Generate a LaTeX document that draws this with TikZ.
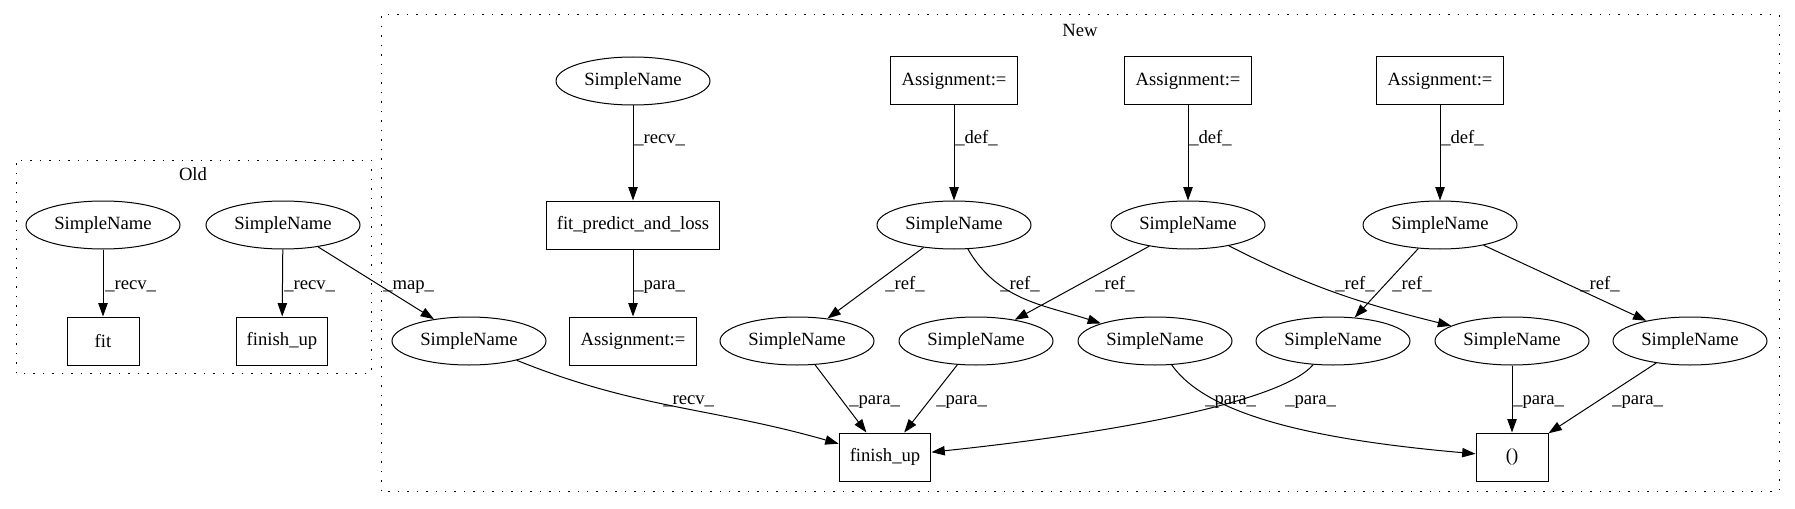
\documentclass[tikz,border=0pt]{standalone}
\usepackage{fontspec}
\setmainfont{Liberation Serif}
\usetikzlibrary{shapes.geometric,arrows.meta}
\begin{document}
\begin{tikzpicture}[x=0.75pt,y=0.75pt,
		font=\fontsize{14}{16}\selectfont,
		sn/.style={draw,ellipse,line width=0.75pt,minimum width=115.5pt,minimum height=36pt,inner sep=0pt},
		op/.style={draw,rectangle,line width=0.75pt,minimum width=54pt,minimum height=36pt,inner xsep=8pt,inner ysep=0pt},
		lbl/.style={anchor=base west,inner sep=0pt},
		arr/.style={-{Triangle[length=10pt,width=7pt]},line width=0.75pt},
		cluster/.style={line width=0.75pt,dash pattern=on 1.1pt off 6pt}]
		\useasboundingbox (0,0) rectangle (1795,508);
		\draw[cluster] (16,135) rectangle (371,348);
		\draw[cluster] (381,17) rectangle (1779,493);
		\node (oldlbl) at (193,334) {Old};
		\node (newlbl) at (1080,478) {New};

		\node[sn] (osn1) at (103,283) {SimpleName};
		\node[sn] (osn2) at (283,283) {SimpleName};
		\node[op] (ofit) at (103,167) {fit};
		\node[op] (ofinish) at (282,167) {finish\_up};

		\node[sn] (nsn) at (633,427) {SimpleName};
		\node[op] (nfitpred) at (633,283) {fit\_predict\_and\_loss};
		\node[op] (nassign) at (633,167) {Assignment:=};
		\node[sn] (nmap) at (469,167) {SimpleName};
		\node[op] (na1) at (954,427) {Assignment:=};
		\node[op] (na2) at (1188,427) {Assignment:=};
		\node[op] (na3) at (1440,427) {Assignment:=};
		\node[sn] (nd1) at (954,283) {SimpleName};
		\node[sn] (nd2) at (1188,283) {SimpleName};
		\node[sn] (nd3) at (1440,283) {SimpleName};
		\node[sn] (r1) at (797,167) {SimpleName};
		\node[sn] (r2) at (976,167) {SimpleName};
		\node[sn] (r3) at (1155,167) {SimpleName};
		\node[sn] (r4) at (1333,167) {SimpleName};
		\node[sn] (r5) at (1512,167) {SimpleName};
		\node[sn] (r6) at (1690,167) {SimpleName};
		\node[op] (nfinish) at (885,51) {finish\_up};
		\node[op] (ntuple) at (1512,51) {()};

		\draw[arr] (osn1) -- (ofit);
		\draw[arr] (osn2) -- (ofinish);
		\draw[arr] (osn2) -- (nmap);
		\draw[arr] (nsn) -- (nfitpred);
		\draw[arr] (nfitpred) -- (nassign);
		\draw[arr] (nmap) to[out=-22,in=164] (nfinish);
		\draw[arr] (na1) -- (nd1);
		\draw[arr] (na2) -- (nd2);
		\draw[arr] (na3) -- (nd3);
		\draw[arr] (nd1) -- (r1);
		\draw[arr] (nd1) to[out=-60,in=162] (r3);
		\draw[arr] (nd2) -- (r2);
		\draw[arr] (nd2) to[out=-27,in=166] (r5);
		\draw[arr] (nd3) -- (r4);
		\draw[arr] (nd3) -- (r6);
		\draw[arr] (r1) -- (nfinish);
		\draw[arr] (r2) -- (nfinish);
		\draw[arr] (r3) to[out=-55,in=175,out looseness=0.5,in looseness=1.3] (ntuple);
		\draw[arr] (r4) to[out=-130,in=6,out looseness=0.3,in looseness=1.3] (nfinish);
		\draw[arr] (r5) -- (ntuple);
		\draw[arr] (r6) -- (ntuple);

		\node[lbl] (l1) at (105,219) {\_recv\_};
		\node[lbl] (l2) at (284,219) {\_recv\_};
		\node[lbl] (l3) at (383,219) {\_map\_};
		\node[lbl] (l4) at (634,364) {\_recv\_};
		\node[lbl] (l5) at (634,219) {\_para\_};
		\node[lbl] (l6) at (955,364) {\_def\_};
		\node[lbl] (l7) at (1189,364) {\_def\_};
		\node[lbl] (l8) at (1441,364) {\_def\_};
		\node[lbl] (l9) at (885,219) {\_ref\_};
		\node[lbl] (l10) at (1000,219) {\_ref\_};
		\node[lbl] (l11) at (1095,219) {\_ref\_};
		\node[lbl] (l12) at (1335,219) {\_ref\_};
		\node[lbl] (l13) at (1392,219) {\_ref\_};
		\node[lbl] (l14) at (1580,219) {\_ref\_};
		\node[lbl] (l15) at (663,104) {\_recv\_};
		\node[lbl] (l16) at (849,104) {\_para\_};
		\node[lbl] (l17) at (936,104) {\_para\_};
		\node[lbl] (l18) at (1205,104) {\_para\_};
		\node[lbl] (l19) at (1285,104) {\_para\_};
		\node[lbl] (l20) at (1513,104) {\_para\_};
		\node[lbl] (l21) at (1612,104) {\_para\_};
	\end{tikzpicture}
\end{document}
